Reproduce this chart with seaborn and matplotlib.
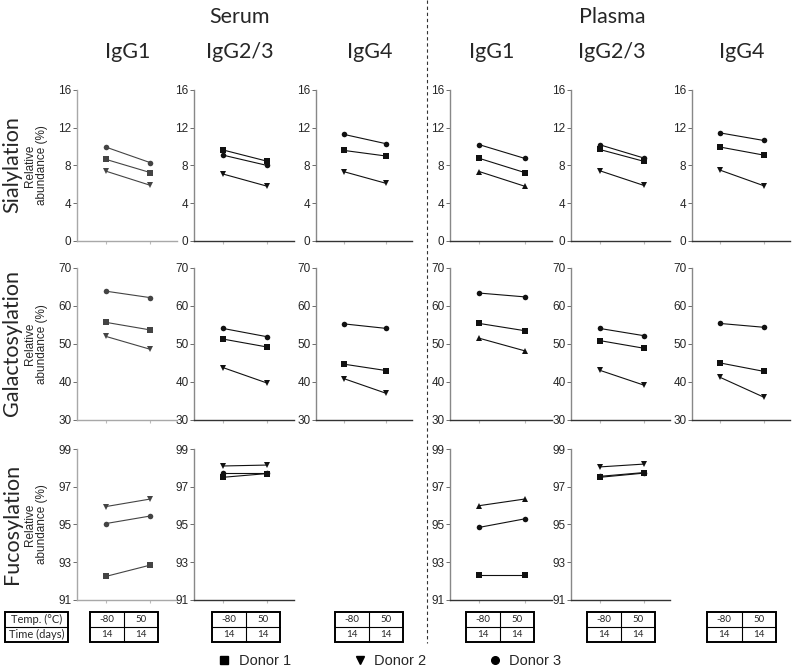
import numpy as np
import pandas as pd
import seaborn as sns
import matplotlib.pyplot as plt
from matplotlib.lines import Line2D
from matplotlib.patches import Rectangle

# categories
donors = ['Donor 1', 'Donor 2', 'Donor 3']
x_pos = [1, 2]
temps = ['-80', '50']
days = ['14', '14']

# values per donor as [-80 C, 50 C]
sia_serum_igg1 = [[8.65, 7.25], [7.4, 5.9], [9.95, 8.3]]
sia_serum_igg23 = [[9.65, 8.45], [7.1, 5.8], [9.1, 8.0]]
sia_serum_igg4 = [[9.6, 9.0], [7.35, 6.1], [11.3, 10.3]]
sia_plasma_igg1 = [[8.75, 7.25], [7.35, 5.8], [10.2, 8.75]]
sia_plasma_igg23 = [[9.7, 8.45], [7.45, 5.9], [10.2, 8.8]]
sia_plasma_igg4 = [[9.95, 9.1], [7.5, 5.85], [11.45, 10.65]]

gal_serum_igg1 = [[55.7, 53.7], [52.0, 48.6], [63.9, 62.2]]
gal_serum_igg23 = [[51.3, 49.2], [43.8, 39.7], [54.1, 51.9]]
gal_serum_igg4 = [[44.7, 43.0], [40.9, 37.0], [55.3, 54.1]]
gal_plasma_igg1 = [[55.4, 53.5], [51.5, 48.2], [63.4, 62.4]]
gal_plasma_igg23 = [[50.9, 48.9], [43.1, 39.2], [54.1, 52.2]]
gal_plasma_igg4 = [[45.0, 42.8], [41.2, 36.0], [55.4, 54.4]]

fuc_serum_igg1 = [[92.25, 92.85], [95.95, 96.35], [95.05, 95.45]]
fuc_serum_igg23 = [[97.5, 97.7], [98.1, 98.15], [97.75, 97.75]]
fuc_plasma_igg1 = [[92.3, 92.3], [96.0, 96.35], [94.85, 95.3]]
fuc_plasma_igg23 = [[97.5, 97.72], [98.05, 98.2], [97.55, 97.75]]

sns.set_style('ticks')
plt.rcParams['font.family'] = ['Liberation Sans', 'DejaVu Sans']
TITLE_FONT = ['Lato', 'DejaVu Sans']

W, H = 792, 668
fig = plt.figure(figsize=(W / 100, H / 100), dpi=100)


def fx(x):
    return x / W


def fy(y):
    return 1 - y / H


def add_ax(x0, x1, y0, y1):
    return fig.add_axes([fx(x0), fy(y1), fx(x1) - fx(x0), fy(y0) - fy(y1)])


col_px = [(77, 177), (194, 294), (316, 412), (450, 552), (571, 670), (692, 790)]
row_px = [(90, 241), (268, 420), (449, 600)]

normal_markers = {'Donor 1': 's', 'Donor 2': 'v', 'Donor 3': 'o'}
plasma1_markers = {'Donor 1': 's', 'Donor 2': '^', 'Donor 3': 'o'}


def draw_panel(ax, values, ylim, yticks, markers, gray=False):
    df = pd.DataFrame({'donor': np.repeat(donors, 2),
                       'x': x_pos * len(donors),
                       'value': np.ravel(values)})
    color = '#444444' if gray else '#111111'
    sns.lineplot(data=df, x='x', y='value', hue='donor', style='donor',
                 markers=markers, dashes=False,
                 palette={d: color for d in donors}, legend=False, ax=ax,
                 linewidth=0.8, markersize=4, markeredgewidth=0,
                 markeredgecolor=color)
    ax.set_xlim(0.35, 2.6)
    ax.set_ylim(*ylim)
    ax.set_yticks(yticks)
    ax.set_xticks(x_pos)
    ax.set_xlabel('')
    ax.set_ylabel('')
    ax.tick_params(axis='x', length=2, color='#bbbbbb', labelbottom=False)
    ax.tick_params(axis='y', length=3, width=0.6, labelsize=8.5, pad=1,
                   color='#555555')
    sns.despine(ax=ax)
    if gray:
        ax.spines['left'].set_color('#a8a8a8')
        ax.spines['bottom'].set_color('#a8a8a8')
    else:
        ax.spines['left'].set_color('#888888')
        ax.spines['bottom'].set_color('#333333')
    ax.spines['left'].set_linewidth(1.0)
    ax.spines['bottom'].set_linewidth(1.0)


sia_ticks = [0, 4, 8, 12, 16]
gal_ticks = [30, 40, 50, 60, 70]
fuc_ticks = [91, 93, 95, 97, 99]

rows = [
    ([sia_serum_igg1, sia_serum_igg23, sia_serum_igg4,
      sia_plasma_igg1, sia_plasma_igg23, sia_plasma_igg4], (0, 16), sia_ticks),
    ([gal_serum_igg1, gal_serum_igg23, gal_serum_igg4,
      gal_plasma_igg1, gal_plasma_igg23, gal_plasma_igg4], (30, 70), gal_ticks),
    ([fuc_serum_igg1, fuc_serum_igg23, None,
      fuc_plasma_igg1, fuc_plasma_igg23, None], (91, 99), fuc_ticks),
]

for r, (panels, ylim, ticks) in enumerate(rows):
    y0, y1 = row_px[r]
    for c, vals in enumerate(panels):
        if vals is None:
            continue
        x0, x1 = col_px[c]
        ax = add_ax(x0, x1, y0, y1)
        markers = plasma1_markers if c == 3 else normal_markers
        draw_panel(ax, vals, ylim, ticks, markers, gray=(c == 0))
        if c == 0:
            ax.set_ylabel('Relative\nabundance (%)', fontsize=8.5, linespacing=1.0)
            ax.yaxis.set_label_coords(-0.29, 0.5)

# row labels
row_names = ['Sialylation', 'Galactosylation', 'Fucosylation']
for r, name in enumerate(row_names):
    y0, y1 = row_px[r]
    fig.text(fx(12), fy((y0 + y1) / 2 - 1), name, rotation=90, ha='center',
             va='center', fontsize=15.5, family=TITLE_FONT)

# column headings
fig.text(fx(240), fy(17), 'Serum', ha='center', va='center', fontsize=15.5,
         family=TITLE_FONT)
fig.text(fx(612), fy(17), 'Plasma', ha='center', va='center', fontsize=15.5,
         family=TITLE_FONT)
sub_titles = ['IgG1', 'IgG2/3', 'IgG4', 'IgG1', 'IgG2/3', 'IgG4']
sub_x = [128, 240, 370, 492, 612, 742]
for t, xc in zip(sub_titles, sub_x):
    fig.text(fx(xc), fy(52), t, ha='center', va='center', fontsize=15.5,
             family=TITLE_FONT)

# separator
fig.add_artist(Line2D([fx(427), fx(427)], [fy(0), fy(643)], color='#333333',
                      lw=0.8, ls=(0, (3, 2.5))))


# condition tables
def draw_table(x0, x1, cells, ncols, fontsize):
    ty0, tmid, ty1 = 612, 627, 642
    fig.add_artist(Rectangle((fx(x0), fy(ty1)), fx(x1) - fx(x0),
                             fy(ty0) - fy(ty1), fill=False, lw=1.4,
                             edgecolor='black'))
    fig.add_artist(Line2D([fx(x0), fx(x1)], [fy(tmid)] * 2, color='black',
                          lw=0.8))
    cw = (x1 - x0) / ncols
    for k in range(1, ncols):
        fig.add_artist(Line2D([fx(x0 + k * cw)] * 2, [fy(ty0), fy(ty1)],
                              color='black', lw=0.8))
    for ri, row in enumerate(cells):
        yc = (ty0 + tmid) / 2 if ri == 0 else (tmid + ty1) / 2
        for ci, txt in enumerate(row):
            fig.text(fx(x0 + (ci + 0.5) * cw), fy(yc), txt, ha='center',
                     va='center', fontsize=fontsize, family=TITLE_FONT)


draw_table(5, 68, [['Temp. (°C)'], ['Time (days)']], 1, 8)
table_px = [(90, 158), (212, 280), (335, 403), (466, 534), (587, 655), (707, 776)]
for x0, x1 in table_px:
    draw_table(x0, x1, [temps, days], 2, 7)

# legend
handles = [Line2D([], [], color='black', ls='none', marker=m, markersize=5.5)
           for m in ['s', 'v', 'o']]
fig.legend(handles, donors, loc='center', bbox_to_anchor=(fx(390), fy(661)),
           ncol=3, frameon=False, fontsize=10.5, handlelength=0.8,
           handletextpad=0.6, columnspacing=4.3)

fig.savefig('out.png', dpi=100)
